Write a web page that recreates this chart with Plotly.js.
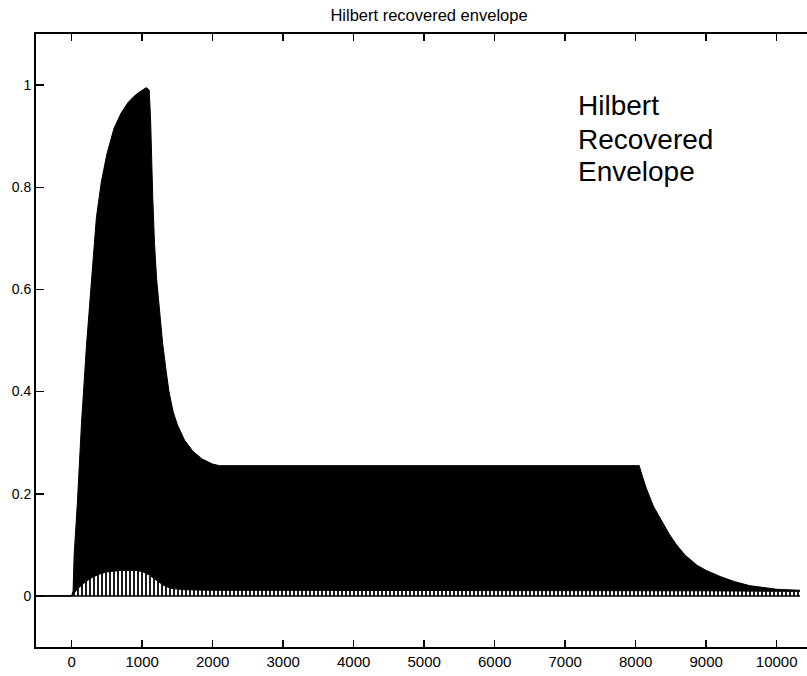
<!DOCTYPE html>
<html>
<head>
<meta charset="utf-8">
<script src="https://cdn.plot.ly/plotly-3.0.1.min.js"></script>
<style>
  html, body { margin: 0; padding: 0; background: #fff; }
  #chart { width: 807px; height: 676px; }
</style>
</head>
<body>
<div id="chart"></div>
<script>
// Upper envelope of the recovered signal (time in samples, amplitude)
const upperX = [-500, 0, 20, 35, 80, 140, 210, 280, 350, 420, 500, 600, 700, 800, 900, 1000, 1060, 1100,
                1120, 1150, 1175, 1205, 1250, 1290, 1340, 1380, 1440, 1500, 1600, 1720, 1850, 2000, 2100,
                3000, 4000, 5000, 6000, 7000, 8000, 8050, 8100, 8150, 8250, 8370, 8480, 8580, 8700,
                8870, 9000, 9200, 9400, 9620, 9800, 10000, 10330];
const upperY = [0, 0, 0.01, 0.08, 0.18, 0.34, 0.49, 0.62, 0.74, 0.81, 0.865, 0.915, 0.945, 0.966, 0.98, 0.99, 0.995, 0.99,
                0.93, 0.78, 0.69, 0.62, 0.55, 0.495, 0.44, 0.40, 0.36, 0.335, 0.305, 0.283, 0.268, 0.258, 0.255,
                0.255, 0.255, 0.255, 0.255, 0.255, 0.256, 0.255, 0.232, 0.211, 0.176, 0.146, 0.12, 0.10, 0.08,
                0.06, 0.05, 0.038, 0.028, 0.02, 0.016, 0.013, 0.011];

// Lower envelope of the recovered signal
const lowerX = [-500, 0, 100, 200, 300, 400, 500, 700, 900, 1000, 1100, 1200, 1300, 1400, 1600,
                2000, 8000, 9000, 10000, 10330];
const lowerY = [0, 0, 0.016, 0.028, 0.037, 0.043, 0.047, 0.05, 0.05, 0.048, 0.041, 0.031, 0.021, 0.015, 0.012,
                0.011, 0.011, 0.010, 0.009, 0.009];

// Axis ticks
const xTicks = [0, 1000, 2000, 3000, 4000, 5000, 6000, 7000, 8000, 9000, 10000];
const yTicks = [0, 0.2, 0.4, 0.6, 0.8, 1];
const yTickText = ['0', '0.2', '0.4', '0.6', '0.8', '1'];

const chartTitle = 'Hilbert recovered envelope';
const noteLines = ['Hilbert', 'Recovered', 'Envelope'];

const FONT = 'Arial, "Liberation Sans", Helvetica, sans-serif';

const traces = [
  {
    // hatched band between zero and the lower envelope
    x: lowerX, y: lowerY, type: 'scatter', mode: 'lines',
    line: { color: '#000', width: 1 },
    fill: 'tozeroy',
    fillpattern: { shape: '|', fgcolor: '#000', bgcolor: '#fff', size: 4, solidity: 0.45 },
    hoverinfo: 'skip', showlegend: false
  },
  {
    // solid band between the lower and upper envelopes
    x: upperX, y: upperY, type: 'scatter', mode: 'lines',
    line: { color: '#000', width: 1 },
    fill: 'tonexty', fillcolor: '#000',
    hoverinfo: 'skip', showlegend: false
  },
  {
    // zero baseline along the signal span
    x: [lowerX[0], lowerX[lowerX.length - 1]], y: [0, 0],
    type: 'scatter', mode: 'lines',
    line: { color: '#000', width: 1.5 },
    hoverinfo: 'skip', showlegend: false
  }
];

const plotL = 36, plotT = 34, plotW = 771, plotH = 613;
const noteX = (576 - plotL) / plotW;
const noteYpx = [105, 139, 171];

const annotations = noteLines.map((t, i) => ({
  text: t, showarrow: false,
  xref: 'paper', yref: 'paper',
  x: noteX, y: 1 - (noteYpx[i] - plotT) / plotH,
  xanchor: 'left', yanchor: 'middle',
  font: { family: FONT, size: 28, color: '#000' }
}));

const layout = {
  width: 807, height: 676,
  margin: { l: plotL, r: 0, t: plotT, b: 676 - plotT - plotH, pad: 0 },
  paper_bgcolor: '#fff', plot_bgcolor: '#fff',
  title: {
    text: chartTitle,
    font: { family: FONT, size: 16.5, color: '#000' },
    xref: 'container', x: 429 / 807, xanchor: 'center',
    yref: 'container', y: 1 - 15 / 676, yanchor: 'middle'
  },
  xaxis: {
    range: [-506, 10430],
    tickvals: xTicks,
    ticktext: xTicks.map(String),
    ticks: 'inside', ticklen: 7, tickwidth: 1.5, tickcolor: '#000',
    showline: true, linecolor: '#000', linewidth: 2, mirror: 'ticks',
    showgrid: false, zeroline: false,
    tickfont: { family: FONT, size: 15, color: '#000' }
  },
  yaxis: {
    range: [-0.1, 1.1],
    tickvals: yTicks, ticktext: yTickText,
    ticks: 'inside', ticklen: 8, tickwidth: 1.5, tickcolor: '#000',
    showline: true, linecolor: '#000', linewidth: 2, mirror: false,
    showgrid: false, zeroline: false,
    tickfont: { family: FONT, size: 14, color: '#000' }
  },
  annotations: annotations,
  showlegend: false
};

Plotly.newPlot('chart', traces, layout, { staticPlot: true, displayModeBar: false });
</script>
</body>
</html>
